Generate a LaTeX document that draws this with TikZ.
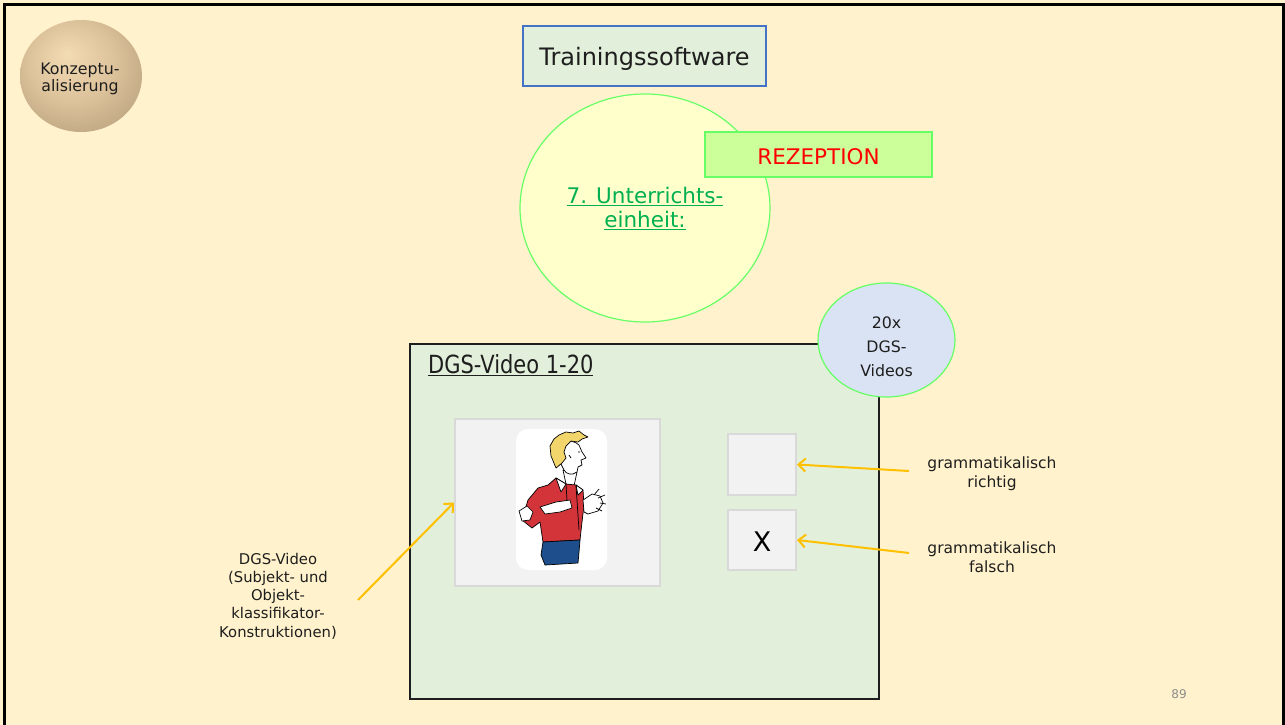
\documentclass[tikz,border=0pt]{standalone}
\usepackage{fontspec}
\setmainfont{DejaVu Sans}
\usetikzlibrary{shapes.geometric,arrows.meta}

\definecolor{slidebg}{HTML}{FFF2CC}
\definecolor{paleGreen}{HTML}{E2EFDA}
\definecolor{frameBlue}{HTML}{4472C4}
\definecolor{paleYellow}{HTML}{FFFFCC}
\definecolor{limeEdge}{HTML}{66FF66}
\definecolor{limeFill}{HTML}{CCFF99}
\definecolor{unitGreen}{HTML}{00B050}
\definecolor{paleBlue}{HTML}{DAE3F3}
\definecolor{paneGray}{HTML}{F2F2F2}
\definecolor{paneEdge}{HTML}{D9D9D9}
\definecolor{arrowOrange}{HTML}{FFC000}
\definecolor{inkDark}{HTML}{1E1E1E}
\definecolor{ballHi}{HTML}{F3DBB3}
\definecolor{ballMid}{HTML}{DCC29A}
\definecolor{ballOut}{HTML}{B09A78}
\definecolor{hairBlond}{HTML}{F2D66B}
\definecolor{shirtRed}{HTML}{D2343A}
\definecolor{pantsBlue}{HTML}{1F4E8C}

% sand-coloured sphere with its highlight up and to the left
\pgfdeclareradialshading{sandball}{\pgfpoint{-6bp}{10bp}}{%
  color(0bp)=(ballHi); color(18bp)=(ballMid); color(38bp)=(ballOut); color(50bp)=(ballOut)}

\newcommand{\pxfont}[2]{\fontsize{#1}{#2}\selectfont}

\tikzset{
  plainbox/.style={rectangle, inner sep=0pt},
  pane/.style={plainbox, draw=paneEdge, line width=2pt, fill=paneGray},
  oval/.style={ellipse, inner sep=0pt, draw=limeEdge, line width=1.2pt},
  caption/.style={align=center, text=inkDark, inner sep=0pt},
  pointer/.style={draw=arrowOrange, line width=2pt, -{Straight Barb[length=7pt,width=13pt]}},
  outline/.style={draw=black, line width=0.7pt, line join=round},
}

\begin{document}
\begin{tikzpicture}[x=1pt,y=-1pt]
\useasboundingbox (0,0) rectangle (1285,725);
\fill[slidebg] (0,0) rectangle (1285,725);
\draw[line width=3pt, black] (4.5,725) -- (4.5,5) -- (1283.5,5) -- (1283.5,725);

% heading elements
\node (konz) at (81,76) [ellipse, inner sep=0pt, minimum width=122pt, minimum height=112pt,
  shading=sandball] {};
\node (konzlabel) at (80,79) [caption, font=\pxfont{15.8}{17.5}] {Konzeptu-\\alisierung};
\node (train) at (644.5,56) [plainbox, draw=frameBlue, line width=1.5pt, fill=paleGreen,
  minimum width=243pt, minimum height=60pt] {};
\node (trainlabel) at (644.5,58.5) [caption, font=\pxfont{24}{28}] {Trainingssoftware};
\node (unit) at (645,208) [oval, fill=paleYellow, minimum width=250pt, minimum height=228pt,
  align=center, text=unitGreen, font=\pxfont{21.5}{24}] {\underline{7. Unterrichts-}\\\underline{einheit:}};
\node (rez) at (818.5,154.5) [plainbox, draw=limeEdge, line width=2pt, fill=limeFill,
  minimum width=227pt, minimum height=45pt] {};
\node (rezlabel) at (818.5,157) [inner sep=0pt, text=red, font=\pxfont{21.5}{26}] {REZEPTION};

% the exercise panel
\node (panel) at (644.5,521.5) [plainbox, draw=inkDark, line width=1.3pt, fill=paleGreen,
  minimum width=469pt, minimum height=355pt] {};
\node (paneltitle) at (428,373) [anchor=base west, inner sep=0pt, text=inkDark, font=\pxfont{25}{28}]
  {\scalebox{0.84}[1]{\underline{DGS-Video 1-20}}};
\node (count) at (886.5,340) [oval, fill=paleBlue, minimum width=137pt, minimum height=114pt] {};
\node (countlabel) at (886.5,347) [caption, font=\pxfont{15.8}{24}] {20x\\DGS-\\Videos};

\node (video) at (557.5,502.5) [pane, minimum width=205pt, minimum height=167pt] {};
\node (still) at (561.5,499.5) [plainbox, fill=white, rounded corners=12pt,
  minimum width=91pt, minimum height=141pt] {};

% signing person in the video still
\draw[outline, fill=white] (563,470) -- (566,484) -- (574,486) -- (577,472) -- cycle;
\draw[outline, fill=shirtRed] (548,485) -- (556,478) -- (566,484) -- (576,485) -- (583,490)
  -- (584,505) -- (582,522) -- (580,540) -- (543,542) -- (540,522) -- (532,528) -- (522,520)
  -- (528,500) -- (538,488) -- cycle;
\draw[outline, fill=white] (556,478) -- (561,492) -- (566,484) -- cycle;
\draw[outline, fill=white] (576,485) -- (578,495) -- (583,490) -- cycle;
\draw[outline] (566,484) -- (567,500) (576,486) -- (579,530);
\draw[outline, fill=white] (558,452) .. controls (560,442) and (572,438) .. (579,445)
  -- (582,452) -- (586,458) -- (581,460) -- (582,465) -- (578,467) -- (577,472)
  .. controls (572,476) and (566,474) .. (564,470) -- (560,462) -- cycle;
\draw[outline, fill=hairBlond] (556,468) -- (551,456) -- (550,446) -- (554,439) -- (559,435)
  -- (566,432) -- (573,433) -- (579,431) -- (584,435) -- (588,437) -- (582,439) -- (578,442)
  -- (571,441) -- (566,446) -- (564,452) -- (566,458) -- (562,463) -- cycle;
\draw[outline] (569,455) -- (571,458) (578,452) -- (580,452);
\draw[outline, fill=white] (519,511) -- (527,506) -- (533,512) -- (530,520) -- (522,521) -- cycle;
\draw[outline, fill=white] (540,507) -- (556,502) -- (570,500) -- (572,508) -- (560,512)
  -- (545,514) -- cycle;
\draw[outline, fill=white] (583,500) -- (592,494) -- (600,496) -- (603,503) -- (598,511)
  -- (588,514) -- (584,512) -- cycle;
\draw[outline] (594,495) -- (599,489) (598,498) -- (605,495) (600,503) -- (606,504)
  (596,508) -- (602,511);
\draw[outline, fill=pantsBlue] (543,542) -- (580,540) -- (579,552) -- (578,563) -- (545,565)
  -- (541,555) -- cycle;

% answer boxes
\node (right) at (762,464.5) [pane, minimum width=68pt, minimum height=61pt] {};
\node (wrong) at (762,540) [pane, minimum width=68pt, minimum height=60pt] {};
\node (wronglabelX) at (762,542) [inner sep=0pt, text=black, font=\pxfont{27}{30}] {X};

% explanations
\node (rightlabel) at (992,473.5) [caption, font=\pxfont{15.5}{19}] {grammatikalisch\\richtig};
\node (wronglabel) at (992,557) [caption, font=\pxfont{15.5}{19}] {grammatikalisch\\falsch};
\node (videolabel) at (278,596) [caption, font=\pxfont{14.8}{18.3}]
  {DGS-Video\\(Subjekt- und\\Objekt-\\klassifikator-\\Konstruktionen)};

\coordinate (rightTail) at (909,471);
\coordinate (wrongTail) at (909,553);
\coordinate (videoTail) at (358,600);
\draw[pointer] (rightTail) -- (right.east);
\draw[pointer] (wrongTail) -- (wrong.east);
\draw[pointer] (videoTail) -- (video.west);

\node (pageno) at (1179,694) [text=black!45, font=\pxfont{12}{14}] {89};
\end{tikzpicture}
\end{document}
